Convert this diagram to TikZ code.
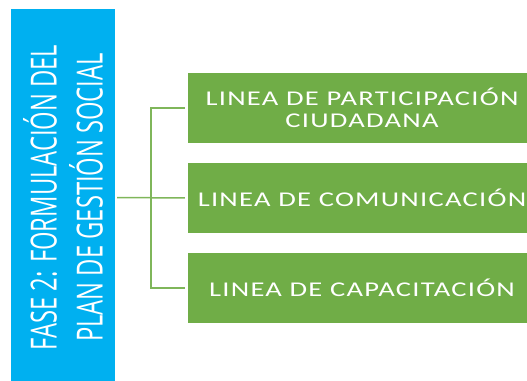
\documentclass[tikz,border=0pt]{standalone}
\usepackage{fontspec}
\newfontfamily\fasefont[FakeStretch=0.66]{Open Sans}
\newfontfamily\lineafont[FakeStretch=1.36,LetterSpace=6]{Carlito}
\definecolor{faseblue}{HTML}{00B0F0}
\definecolor{lineagreen}{HTML}{70AD47}
\definecolor{conngreen}{HTML}{7FB65A}

\begin{document}
\begin{tikzpicture}
  [x=1pt,y=-1pt,every node/.style={inner sep=0pt,text=white,align=center},
   linea/.style={fill=lineagreen,minimum width=348pt,minimum height=70pt,
     font=\lineafont\fontsize{21}{22}\selectfont},
   conn/.style={draw=conngreen,line width=1.5pt}]
  \useasboundingbox (0,0) rectangle (527,380);

  \node[fill=faseblue,rotate=90,minimum width=377pt,minimum height=104pt,
    font=\fasefont\fontsize{36}{46}\selectfont] (fase) at (63,197.5)
    {FASE 2: FORMULACIÓN DEL\\PLAN DE GESTIÓN SOCIAL};

  \node[linea] (part) at (362,108) {LINEA DE PARTICIPACIÓN\\CIUDADANA};
  \node[linea] (comu) at (362,198) {LINEA DE COMUNICACIÓN};
  \node[linea] (capa) at (362,288) {LINEA DE CAPACITACIÓN};

  \coordinate (hub) at (151,198);
  \draw[conn,shorten <=2pt,shorten >=3pt] (fase.south) -- (comu.west);
  \foreach \to in {part,capa}
    \draw[conn,shorten >=3pt] (hub) |- (\to.west);

\end{tikzpicture}
\end{document}
